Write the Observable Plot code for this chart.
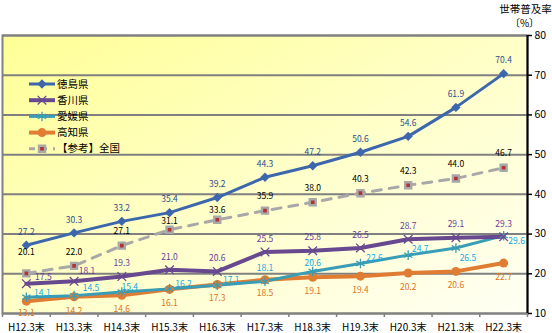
<!DOCTYPE html>
<html><head><meta charset="utf-8">
<script src="https://cdn.jsdelivr.net/npm/d3@7"></script>
<script src="https://cdn.jsdelivr.net/npm/@observablehq/plot@0.6"></script>
<style>
body{margin:0;background:#fff;}
#chart{width:552px;height:333px;}
</style></head><body><div id="chart"></div>
<script>
const categories = ["H12.3末","H13.3末","H14.3末","H15.3末","H16.3末","H17.3末","H18.3末","H19.3末","H20.3末","H21.3末","H22.3末"];
const tokushima = [27.2, 30.3, 33.2, 35.4, 39.2, 44.3, 47.2, 50.6, 54.6, 61.9, 70.4];
const kagawa    = [17.5, 18.1, 19.3, 21.0, 20.6, 25.5, 25.8, 26.5, 28.7, 29.1, 29.3];
const ehime     = [14.1, 14.5, 15.4, 16.2, 17.1, 18.1, 20.6, 22.6, 24.7, 26.5, 29.6];
const kochi     = [13.1, 14.2, 14.6, 16.1, 17.3, 18.5, 19.1, 19.4, 20.2, 20.6, 22.7];
const national  = [20.1, 22.0, 27.1, 31.1, 33.6, 35.9, 38.0, 40.3, 42.3, 44.0, 46.7];
const seriesNames = ["徳島県","香川県","愛媛県","高知県","【参考】全国"];
const yTicks = [10,20,30,40,50,60,70,80];
const yTitle1 = "世帯普及率";
const yTitle2 = "〔%〕";

const FONT = '"Noto Sans CJK JP", "Noto Sans", sans-serif';

// styling per series (default label offset dx, dy)
const seriesStyle = [
  {values: tokushima, color:"#3d67ad", label:"#2b4f8e", width:3, symbol:"diamond2", r:4.2, fill:true, dx:0, dy:-13},
  {values: kagawa, color:"#68498f", label:"#6a3d9a", width:4, symbol:"times", r:4, fill:false, dx:0, dy:-13},
  {values: ehime, color:"#3a9db5", label:"#10a8e8", width:3, symbol:"asterisk", r:4.5, fill:false, dx:14, dy:-5},
  {values: kochi, color:"#e07d32", label:"#e0731c", width:4, symbol:"circle", r:4.5, fill:true, dx:0, dy:14},
  {values: national, color:"#a8a8a8", label:"#000000", width:3, symbol:"square", r:3.4, fill:true, dx:0, dy:-14, dash:"9,8", markFill:"#b03434"}
];
// label placement tweaks (series index -> point index -> [dx, dy])
const labelNudges = {
  1: {0: [17, -6], 1: [13, -10]},
  2: {0: [16, -4], 1: [17, -7], 2: [8, -5], 5: [0, -13], 6: [0, -8], 8: [12, -6], 9: [12, 10], 10: [13, 6]},
  3: {0: [0, 12]},
  4: {0: [0, -21], 3: [0, -8], 4: [0, -10]}
};

const seriesMarks = [];
const order = [4,3,2,1,0];
for (const s of order) {
  const st = seriesStyle[s];
  const rows = st.values.map((v, i) => ({i, v}));
  seriesMarks.push(Plot.line(rows, {x:"i", y:"v", stroke: st.color, strokeWidth: st.width, strokeDasharray: st.dash, strokeLinejoin:"round"}));
}
for (const s of order) {
  const st = seriesStyle[s];
  const rows = st.values.map((v, i) => ({i, v}));
  if (s === 4) {
    seriesMarks.push(Plot.dot(rows, {x:"i", y:"v", symbol:"square", r: st.r, fill: st.markFill, stroke: st.color, strokeWidth: 2.4}));
  } else if (st.fill) {
    seriesMarks.push(Plot.dot(rows, {x:"i", y:"v", symbol: st.symbol, r: st.r, fill: st.color, stroke:"none"}));
  } else {
    seriesMarks.push(Plot.dot(rows, {x:"i", y:"v", symbol: st.symbol, r: st.r, stroke: st.color, strokeWidth: 1.3, fill:"none"}));
  }
}
for (const s of order) {
  const st = seriesStyle[s];
  const nudges = labelNudges[s] || {};
  st.values.forEach((v, i) => {
    const [dx, dy] = nudges[i] || [st.dx, st.dy];
    seriesMarks.push(Plot.text([{i, v}], {x:"i", y:"v", text: d => d.v.toFixed(1), dx, dy, fill: st.label, fontSize: 8.5}));
  });
}

const plot = Plot.plot({
  width: 552,
  height: 333,
  marginTop: 35,
  marginBottom: 20,
  marginLeft: 2,
  marginRight: 25,
  style: {fontFamily: FONT, background: "transparent", color: "#000"},
  x: {type: "linear", domain: [-0.5, categories.length - 0.5]},
  y: {domain: [10, 80]},
  marks: [
    Plot.frame({fill: "url(#bgGrad)"}),
    Plot.gridY({ticks: yTicks, stroke: "#808080", strokeOpacity: 1, strokeWidth: 2}),
    Plot.frame({stroke: "#808080", strokeWidth: 2}),
    Plot.axisX({ticks: d3.range(-0.5, categories.length, 1), tickSize: 4, tickFormat: () => "", label: null, stroke: "#808080", strokeWidth: 1.5}),
    Plot.axisX({ticks: d3.range(categories.length), tickSize: 0, tickPadding: 10, tickFormat: i => categories[i], label: null, fontSize: 10, fill: "#000"}),
    Plot.axisY({anchor: "right", ticks: yTicks, tickSize: 4, tickPadding: 3, fontSize: 10.5, label: null, stroke: "#000", strokeWidth: 1.5}),
    Plot.ruleX([categories.length - 0.5], {stroke: "#000", strokeWidth: 2}),
    Plot.text([yTitle1], {frameAnchor: "top-right", text: d => d, textAnchor: "middle", dx: -2, dy: -30, fontSize: 10.5, fill: "#000"}),
    Plot.text([yTitle2], {frameAnchor: "top-right", text: d => d, textAnchor: "middle", dx: -3, dy: -16, fontSize: 10, fill: "#000"}),
    ...seriesMarks
  ]
});

const svg = d3.select(plot);
const defs = svg.insert("defs", ":first-child");
const grad = defs.append("linearGradient").attr("id", "bgGrad").attr("x1", 0).attr("y1", 0).attr("x2", 1).attr("y2", 1);
grad.append("stop").attr("offset", "0%").attr("stop-color", "#ffff96");
grad.append("stop").attr("offset", "55%").attr("stop-color", "#ffffcc");
grad.append("stop").attr("offset", "100%").attr("stop-color", "#fffff4");

// Legend (inside plot, top-left)
const lg = svg.append("g").attr("font-family", FONT).attr("font-size", 10.5).attr("text-anchor", "start");
const symMap = {diamond2: d3.symbolDiamond2, times: d3.symbolTimes, asterisk: d3.symbolAsterisk, circle: d3.symbolCircle, square: d3.symbolSquare};
seriesStyle.forEach((st, k) => {
  const y = 84 + k * 16.2;
  const row = lg.append("g").attr("transform", `translate(0,${y})`);
  row.append("line").attr("x1", 29).attr("x2", 55).attr("y1", 0).attr("y2", 0)
    .attr("stroke", st.color).attr("stroke-width", st.width)
    .attr("stroke-dasharray", k === 4 ? "6,6" : null);
  const path = d3.symbol(symMap[st.symbol], Math.PI * st.r * st.r)();
  const m = row.append("path").attr("d", path).attr("transform", "translate(42,0)");
  if (k === 4) m.attr("fill", st.markFill).attr("stroke", st.color).attr("stroke-width", 2.4);
  else if (st.fill) m.attr("fill", st.color);
  else m.attr("fill", "none").attr("stroke", st.color).attr("stroke-width", 1.3);
  row.append("text").attr("x", 57).attr("y", 0).attr("dy", "0.35em").attr("fill", "#000").attr("text-anchor", "start").text(seriesNames[k]);
});

document.getElementById("chart").appendChild(plot);
</script>
</body></html>
